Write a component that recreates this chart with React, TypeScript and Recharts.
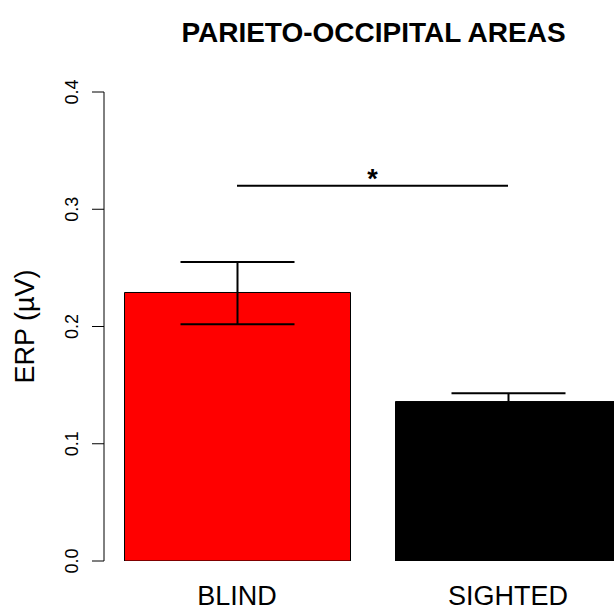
import { BarChart, Bar, XAxis, YAxis, ErrorBar, Cell, ReferenceLine } from 'recharts';

const groups = ['BLIND', 'SIGHTED'];
const erp = [0.229, 0.136];
const errLow = [0.027, 0.007];
const errHigh = [0.026, 0.007];
const barColors = ['#ff0000', '#000000'];
const yTicks = [0, 0.1, 0.2, 0.3, 0.4];
const sigLevel = 0.32;

const data = groups.map((g, i) => ({
  group: g,
  erp: erp[i],
  err: [errLow[i], errHigh[i]],
}));

const FONT = '"Liberation Sans", Arial, Helvetica, sans-serif';

const YTick = ({ y, payload }: any) => (
  <text
    x={78}
    y={y}
    transform={`rotate(-90, 78, ${y})`}
    textAnchor="middle"
    fontSize={18}
    fontFamily={FONT}
    fill="#000"
  >
    {Number(payload.value).toFixed(1)}
  </text>
);

const XTick = ({ x, y, payload }: any) => (
  <text x={x} y={y + 44} textAnchor="middle" fontSize={27} fontFamily={FONT} fill="#000">
    {payload.value}
  </text>
);

const Star = (props: any) => {
  const vb = props.viewBox || {};
  const cx = (vb.x ?? 0) + (vb.width ?? 0) / 2;
  return (
    <text x={cx} y={(vb.y ?? 0) + 2} textAnchor="middle" fontSize={27} fontWeight="bold" fontFamily={FONT} fill="#000">
      *
    </text>
  );
};

export default function App() {
  return (
    <div style={{ position: 'absolute', left: 0, top: 0, width: 614, height: 608, overflow: 'hidden', background: '#fff' }}>
      <BarChart
        width={650}
        height={608}
        data={data}
        margin={{ top: 92, right: 4, bottom: 0, left: 0 }}
      >
        <XAxis
          dataKey="group"
          axisLine={false}
          tickLine={false}
          tickSize={0}
          tickMargin={0}
          height={47}
          padding={{ left: -2.5, right: 2.5 }}
          tick={<XTick />}
          interval={0}
        />
        <YAxis
          type="number"
          domain={[0, 0.4]}
          ticks={yTicks}
          width={104}
          tickSize={12}
          axisLine={{ stroke: '#000', strokeWidth: 1 }}
          tickLine={{ stroke: '#000', strokeWidth: 1 }}
          tick={<YTick />}
          allowDataOverflow
        />
        <Bar dataKey="erp" barSize={226} stroke="#000" strokeWidth={1} isAnimationActive={false}>
          {data.map((d, i) => (
            <Cell key={d.group} fill={barColors[i]} />
          ))}
          <ErrorBar dataKey="err" width={57} stroke="#000" strokeWidth={2} direction="y" isAnimationActive={false} />
        </Bar>
        <ReferenceLine
          segment={[
            { x: groups[0], y: sigLevel },
            { x: groups[1], y: sigLevel },
          ]}
          stroke="#000"
          strokeWidth={2}
          label={<Star />}
        />
      </BarChart>
      <svg width={614} height={608} style={{ position: 'absolute', left: 0, top: 0, pointerEvents: 'none' }}>
        <text x={373.5} y={41.5} textAnchor="middle" fontSize={28} fontWeight="bold" fontFamily={FONT} fill="#000">
          PARIETO-OCCIPITAL AREAS
        </text>
        <text
          x={34}
          y={326.5}
          transform="rotate(-90, 34, 326.5)"
          textAnchor="middle"
          fontSize={27}
          fontFamily={FONT}
          fill="#000"
        >
          ERP (µV)
        </text>
      </svg>
    </div>
  );
}
